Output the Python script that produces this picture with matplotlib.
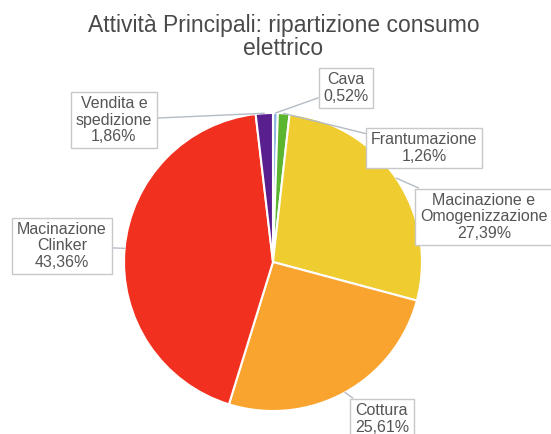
import numpy as np
import matplotlib
matplotlib.use("Agg")
import matplotlib.pyplot as plt

plt.rcParams['font.family'] = ['Liberation Sans', 'DejaVu Sans']

# dati: quota del consumo elettrico per attività (%)
labels = ["Cava", "Frantumazione", "Macinazione e\nOmogenizzazione",
          "Cottura", "Macinazione\nClinker", "Vendita e\nspedizione"]
values = [0.52, 1.26, 27.39, 25.61, 43.36, 1.86]
title = "Attività Principali: ripartizione consumo\nelettrico"

colors = ["#8db6de", "#5cb52f", "#efcc30", "#f9a42f", "#f2301f", "#5a1f8e"]
# posizione delle etichette in pixel (x, y dall'alto)
label_pos = [(346, 88), (424, 148), (484, 217), (382, 419), (62, 246), (114, 120)]

W, H = 551, 434
fig = plt.figure(figsize=(W / 100, H / 100), dpi=100)
ax = fig.add_axes([0, 0, 1, 1])

cx, cy, r = 273, H - 262, 149
wedges, _ = ax.pie(values, colors=colors, startangle=90, counterclock=False,
                   center=(cx, cy), radius=r,
                   wedgeprops=dict(edgecolor="white", linewidth=1.5))
ax.set_xlim(0, W)
ax.set_ylim(0, H)
ax.axis("off")

for w, lab, val, (tx, ty) in zip(wedges, labels, values, label_pos):
    ang = np.deg2rad((w.theta1 + w.theta2) / 2)
    px, py = cx + r * np.cos(ang), cy + r * np.sin(ang)
    txt = lab + "\n" + f"{val:.2f}".replace(".", ",") + "%"
    ax.annotate(txt, xy=(px, py), xytext=(tx, H - ty),
                ha="center", va="center", fontsize=11.5, color="#555555",
                linespacing=1.1,
                bbox=dict(boxstyle="square,pad=0.3", fc="white", ec="#c8c8c8", lw=1),
                arrowprops=dict(arrowstyle="-", color="#b4bcc6", lw=1,
                                shrinkA=0, shrinkB=0))

ax.text(W / 2 + 8, H - 37, title, ha="center", va="center", fontsize=16.5,
        color="#4a4a4a", linespacing=0.95)

fig.savefig("out.png", dpi=100)
